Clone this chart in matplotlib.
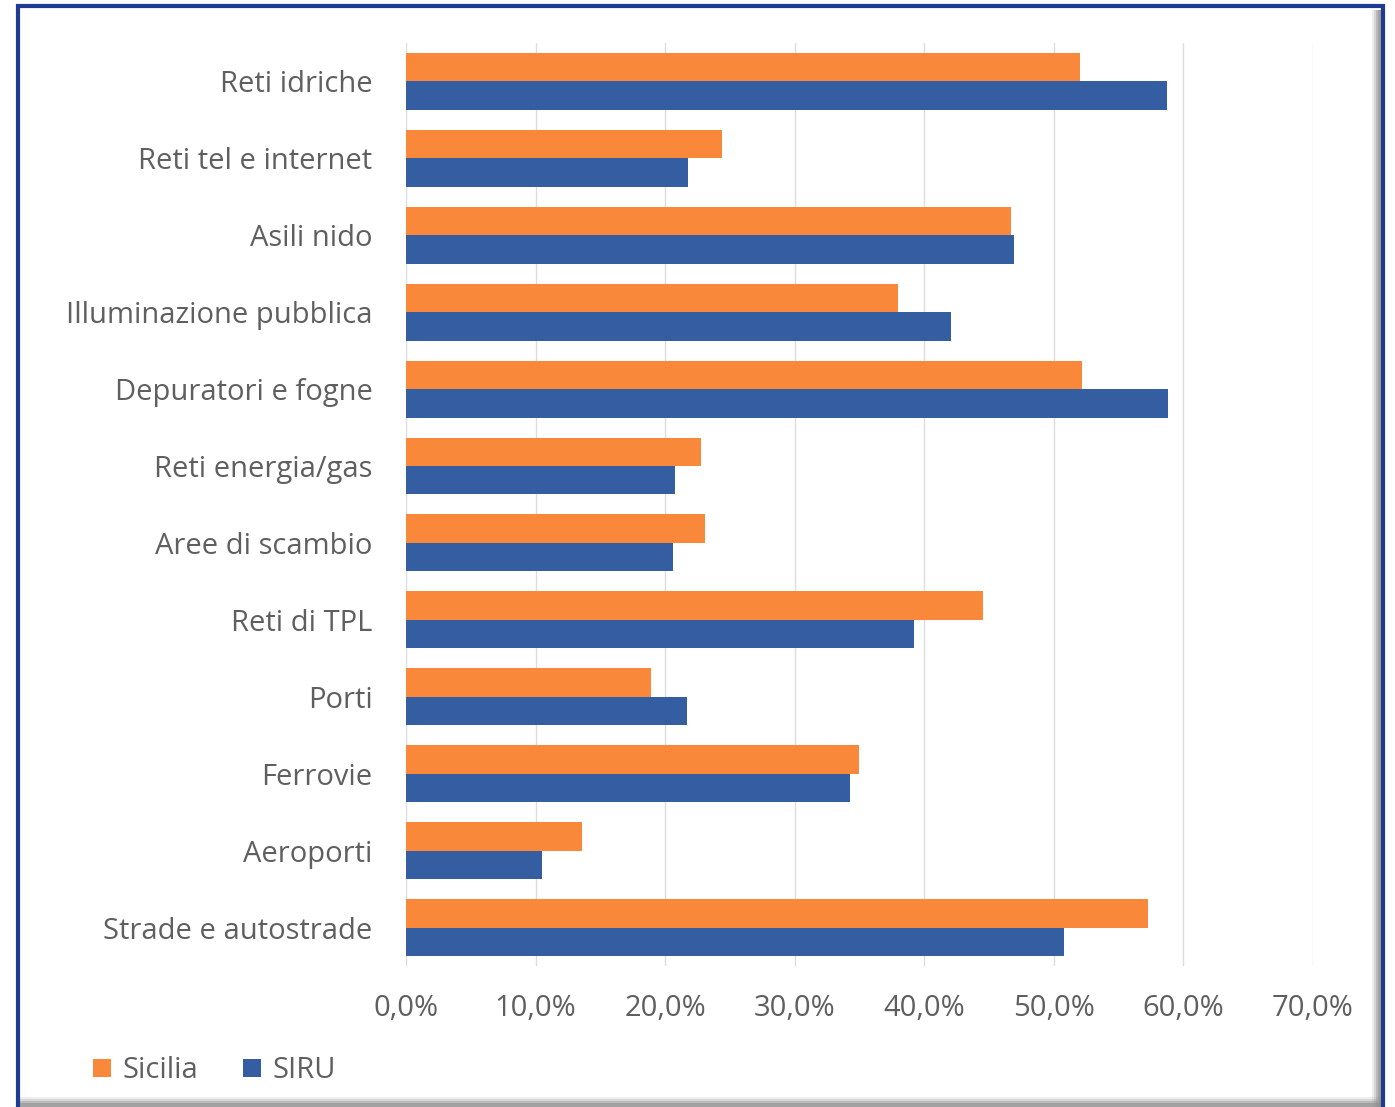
import matplotlib.pyplot as plt
import numpy as np
from matplotlib.patches import Rectangle

categorie = ["Reti idriche", "Reti tel e internet", "Asili nido", "Illuminazione pubblica",
             "Depuratori e fogne", "Reti energia/gas", "Aree di scambio", "Reti di TPL",
             "Porti", "Ferrovie", "Aeroporti", "Strade e autostrade"]
sicilia = [52.0, 24.4, 46.7, 38.0, 52.2, 22.8, 23.1, 44.5, 18.9, 35.0, 13.6, 57.3]
siru = [58.7, 21.8, 46.9, 42.1, 58.8, 20.8, 20.6, 39.2, 21.7, 34.3, 10.5, 50.8]
xticks = [0, 10, 20, 30, 40, 50, 60, 70]

plt.rcParams['font.family'] = ['Open Sans', 'DejaVu Sans']
grigio = "#5F5F5F"
arancio = "#FA883A"
blu = "#345DA2"

fig = plt.figure(figsize=(13.95, 11.07), dpi=100)
ax = fig.add_axes([0.291, 0.1274, 0.6502, 0.8338])

y = np.arange(len(categorie))
h = 0.37
ax.barh(y - h / 2, sicilia, height=h, color=arancio, label="Sicilia", zorder=3)
ax.barh(y + h / 2, siru, height=h, color=blu, label="SIRU", zorder=3)

ax.set_ylim(len(categorie) - 0.5, -0.5)
ax.set_xlim(0, 70)
ax.set_yticks(y)
ax.set_yticklabels(categorie, fontsize=21, color=grigio)
ax.set_xticks(xticks)
ax.set_xticklabels([f"{v},0%" for v in xticks], fontsize=21, color=grigio)
ax.tick_params(axis='y', length=0, pad=24)
ax.tick_params(axis='x', length=0, pad=20)
ax.grid(axis='x', color="#DDDDDD", linewidth=1, zorder=0)
for s in ax.spines.values():
    s.set_visible(False)

ax.legend(loc="lower left", bbox_to_anchor=(0.048, -0.004), bbox_transform=fig.transFigure,
          ncol=2, frameon=False, fontsize=21, labelcolor=grigio,
          handlelength=0.6, handleheight=0.6, handletextpad=0.4, columnspacing=1.55)

# cornice con ombra
W, H = 1395, 1107
for i, a in enumerate([0.15, 0.25, 0.4, 0.55]):
    fig.patches.append(Rectangle(((1372 + 2 * i) / W, 0), (10 - 2 * i) / W, 1 - 10 / H,
                                 transform=fig.transFigure, facecolor="#909090",
                                 edgecolor="none", alpha=a, zorder=0))
    fig.patches.append(Rectangle((20 / W, 0), 1362 / W, (10 - 2 * i) / H,
                                 transform=fig.transFigure, facecolor="#909090",
                                 edgecolor="none", alpha=a, zorder=0))
fig.patches.append(Rectangle((18 / W, -0.01), 1365 / W, 1 - 5.5 / H + 0.01, transform=fig.transFigure,
                             facecolor="none", edgecolor="#1F3A93", linewidth=3, zorder=5))

fig.savefig("out.png", dpi=100)
